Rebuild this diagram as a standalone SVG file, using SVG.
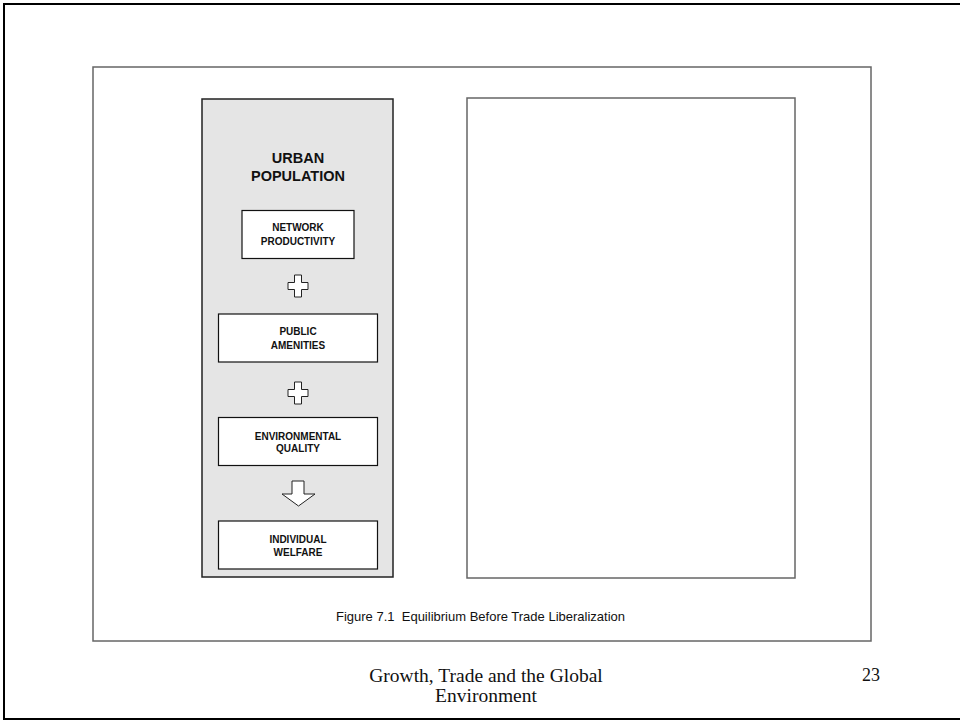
<svg xmlns="http://www.w3.org/2000/svg" width="960" height="721" viewBox="0 0 960 721">
<style>
.frame{fill:#fff;stroke:#000;stroke-width:2}
.inner{fill:#fff;stroke:#666;stroke-width:1.5}
.panel{fill:#e5e5e5;stroke:#222;stroke-width:1.5}
.box{fill:#fff;stroke:#111;stroke-width:1.2}
.sym{fill:#fff;stroke:#222;stroke-width:1}
.title{font-family:"Liberation Sans",Arial,sans-serif;font-weight:bold;font-size:14.5px;fill:#111;text-anchor:middle}
.lbl{font-family:"Liberation Sans",Arial,sans-serif;font-weight:bold;font-size:10px;fill:#111;text-anchor:middle}
.cap{font-family:"Liberation Sans",Arial,sans-serif;font-size:13px;fill:#111;text-anchor:middle;white-space:pre}
.foot{font-family:"Liberation Serif","Times New Roman",serif;font-size:19.5px;fill:#111;text-anchor:middle}
</style>
<defs>
<path id="plus" d="M-3.5,-11 H3.5 V-3.5 H10 V3.5 H3.5 V11 H-3.5 V3.5 H-10 V-3.5 H-3.5 Z"/>
</defs>
<rect class="frame" x="4" y="4" width="960" height="715"/>
<rect class="inner" x="93" y="67" width="778" height="574"/>
<g id="urban-panel">
<rect class="panel" x="202" y="99" width="191" height="478"/>
<text class="title" x="298" y="162.5">URBAN</text>
<text class="title" x="298" y="181">POPULATION</text>
</g>
<g id="right-panel">
<rect class="inner" x="467" y="98" width="328" height="480"/>
</g>
<g id="network-productivity">
<rect class="box" x="242" y="210.5" width="112" height="48"/>
<text class="lbl" x="298" y="230.5">NETWORK</text>
<text class="lbl" x="298" y="245">PRODUCTIVITY</text>
</g>
<g id="public-amenities">
<rect class="box" x="218.5" y="314" width="159" height="48"/>
<text class="lbl" x="298" y="335">PUBLIC</text>
<text class="lbl" x="298" y="348.5">AMENITIES</text>
</g>
<g id="environmental-quality">
<rect class="box" x="218.5" y="417.5" width="159" height="48"/>
<text class="lbl" x="298" y="439.5">ENVIRONMENTAL</text>
<text class="lbl" x="298" y="452">QUALITY</text>
</g>
<g id="individual-welfare">
<rect class="box" x="218.5" y="521" width="159" height="48"/>
<text class="lbl" x="298" y="542.5">INDIVIDUAL</text>
<text class="lbl" x="298" y="556">WELFARE</text>
</g>
<g id="connectors">
<use href="#plus" class="sym" x="298" y="286"/>
<use href="#plus" class="sym" x="298" y="393"/>
<path class="sym" d="M292,481 H304 V494 H315 L298.5,506 L282,494 H292 Z"/>
</g>
<g id="caption">
<text class="cap" x="480.5" y="621" xml:space="preserve">Figure 7.1  Equilibrium Before Trade Liberalization</text>
</g>
<g id="footer">
<text class="foot" x="486" y="681.5">Growth, Trade and the Global</text>
<text class="foot" x="486" y="701.5">Environment</text>
<text class="foot" x="871" y="681" style="font-size:18px">23</text>
</g>
</svg>
